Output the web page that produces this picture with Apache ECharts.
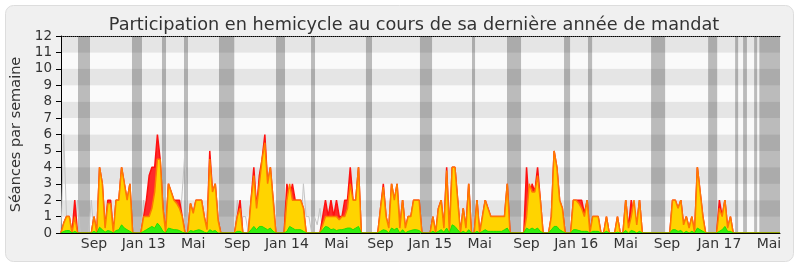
<!DOCTYPE html>
<html><head><meta charset="utf-8">
<script src="https://cdn.jsdelivr.net/npm/echarts@6/dist/echarts.min.js"></script>
<style>html,body{margin:0;padding:0;background:#fff}#c{width:800px;height:267px}</style>
</head><body><div id="c"></div>
<script>
// weekly values, week 0 = mid June 2012, week 261 = mid June 2017
const presence = [
0,0.6,1,1,0,2,0,0,0,0, 0,0,1,0,4,3,0.3,2,2,0, 2,2,4,3,2,3,0,0,0,0,
1,2,3.5,4,4,6,4.5,1.5,0,3, 2.5,2,2,2,1,0,0,1.8,1.2,2, 2,2,1,0.2,5,2.5,3,0.8,0,0,
0,0,0,0,1,2,0,0,0,2, 4,1.5,3.5,4.5,6,3,4,2,0,0, 0,0,3,2,3,2,2,2,1.5,0,
0,0,0,0,0,1,2,1,2,1, 2,1,1,2,2,4,2,2,4,0, 0,0,0,0,0,0,1.5,3,1,0.3,
3,2,3,0.3,2,0.3,1,1,2,2, 2,0,0,0,0,1,0,1.5,2,0.3, 4,0,4,4,2,0,1.5,0.3,3,0,
0,2,0,1,2,1.5,1,1,1,1, 1,1,3,0,0,0,0,0,0,4, 1.5,3,2.5,4,2,0,0,0,1,5,
4,2,1.5,0,0,0,2,2,2,2, 1.2,2,0,1,1,1,0,0,1,0, 0,0,1,0,0,2,0.3,2,1,0.5,
2,0,0,0,0,0,0,0,0,0, 0,0,2,2,1.5,2,0.5,1,0.3,1, 0,4,2.5,1,0,0,0,0,0,2,
1,2,0.3,1,0,0,0,0,0,0, 0,0,0,0,0,0,0,0,0,0, 0,0
];
const participation = [
0,0.6,1,1,0,1,0,0,0,0, 0,0,1,0,4,3,0.3,1.8,1.8,0, 2,2,4,3,2,3,0,0,0,0,
1,1,1,1.5,2.5,4.5,4.5,1.5,0,3, 2.5,2,1.8,1.5,1,0,0,1.8,1.2,2, 2,2,1,0.2,4.5,2.5,3,0.8,0,0,
0,0,0,0,1,1.5,0,0,0,2, 3.5,1.5,3,4.5,5.5,3,4,2,0,0, 0,0,2,3,2,2,2,2,1.5,0,
0,0,0,0,0,0.5,1,1,1,1, 1,0.8,1,1,1.5,3,2,2,4,0, 0,0,0,0,0,0,1.5,2.8,1,0.3,
3,2,3,0.3,2,0.3,1,1,2,2, 2,0,0,0,0,1,0,1.5,2,0.3, 3.8,0,4,4,2,0,1.5,0.3,3,0,
0,2,0,1,2,1.5,1,1,1,1, 1,1,3,0,0,0,0,0,0,1, 3,2.5,2.5,3.5,2,0,0,0,1,5,
4,2,1.5,0,0,0,2,2,1.8,1.5, 1,2,0,1,1,1,0,0,1,0, 0,0,1,0,0,2,0.3,1,2,0.5,
2,0,0,0,0,0,0,0,0,0, 0,0,2,2,1.5,2,0.5,1,0.3,1, 0,4,2.5,1,0,0,0,0,0,1.5,
1,2,0.3,1,0,0,0,0,0,0, 0,0,0,0,0,0,0,0,0,0, 0,0
];
const questions = [
0,0.1,0.15,0.15,0,0.1,0,0,0,0, 0,0,0.1,0,0.35,0.2,0.05,0.15,0.1,0, 0.15,0.2,0.5,0.3,0.2,0.1,0,0,0,0,
0.1,0.2,0.3,0.4,0.3,0.6,0.4,0.1,0,0.3, 0.25,0.2,0.2,0.15,0.05,0,0,0.15,0.1,0.15, 0.2,0.15,0.05,0,0.2,0.1,0.15,0,0,0,
0,0,0,0,0.1,0.1,0,0,0,0.2, 0.4,0.2,0.4,0.4,0.3,0.2,0.3,0.1,0,0, 0,0,0.1,0.4,0.3,0.2,0.2,0.2,0.1,0,
0,0,0,0,0,0.2,0.4,0.35,0.2,0.25, 0.15,0.2,0.2,0.25,0.3,0.3,0.2,0.3,0.4,0, 0,0,0,0,0,0,0.1,0.2,0.15,0,
0.3,0.2,0.3,0,0.2,0,0.1,0.15,0.2,0.2, 0.15,0,0,0,0,0.1,0,0.1,0.2,0.05, 0.3,0,0.5,0.4,0.2,0,0.1,0,0.2,0,
0,0.1,0,0.1,0.2,0.1,0.1,0.1,0.1,0.1, 0.1,0.2,0.3,0,0,0,0,0,0,0.3, 0.2,0.3,0.2,0.3,0.1,0,0,0,0.2,0.4,
0.4,0.2,0.1,0,0,0,0.2,0.2,0.15,0.1, 0.1,0.1,0,0.1,0.1,0.1,0,0,0.1,0, 0,0,0.05,0,0,0.15,0,0.15,0.1,0,
0.1,0,0,0,0,0,0,0,0,0, 0,0,0.2,0.2,0.1,0.15,0,0.1,0,0.1, 0,0.3,0.2,0.1,0,0,0,0,0,0.1,
0.2,0.4,0.1,0.1,0,0,0,0,0,0, 0,0,0,0,0,0,0,0,0,0, 0,0
];
const median = [
0,6,1,0,0,0,2,0,0,0, 0,2,0,0,0,0,0,0,0,0, 0,0,0,0,0,0,0,0,0,0,
2,0,0,0,0,0,0,0,0,0, 0,0,0,0,2.5,5,0,0,0,0, 0,0,0,0,0,0,0,0,0,0,
0,0,0,0,2,0,1,1,0,0, 0,0,0,0,0,0,0,0,0,0, 0,0,0,0,0,0,0,0,3,1,
1,0,1,0.5,1.5,0,0,0,0,0, 0,0,0,0,0,0,0,0,0,0, 0,0,0,0,0,0,0,0,0,0,
0,0,0,0,0,0,0,0,0,0, 0,0,0,0,0,0,0,0,0,0, 0,0,0,0,0,0,0,0,0,0,
0,0,0,0,0,0,0,0,0,0, 0,0,0,0,0,0,0,0,0,0, 0,0,0,0,0,0,0,0,0,0,
0,0,0,0,0,0,0,0,0,0, 0,0,0,0,0,0,0,0,0,0, 0,0,0,0,0,0,0,0,0,0,
0,0,0,0,0,0,0,0,0,0, 0,0,0,0,0,0,0,0,0,0, 0,0,0,0,0,0,0,0,0,0,
0,0,0,0,0,0,0,0,0,0, 0,0,0,0,0,0,0,0,0,0, 0,0
];
// holidays (in weeks from start)
const vacStart = [6.17,25.77,36.66,44.65,57.35,78.05,90.76,110.7,130.3,149.2,161.9,182.6,191.3,214.2,234.9,244.7,247.6,251.6,253.5];
const vacEnd   = [10.53,29.4,38.12,46.1,62.9,81.32,92.21,112.9,134.7,150.3,167,184.8,192.8,219.3,238.2,245.8,249,252.7,261];
// x tick labels
const tickWeeks = [12,30,48,64,82,100,116,134,152,169,187,205,220,239,257];
const tickLabels = ['Sep','Jan 13','Mai','Sep','Jan 14','Mai','Sep','Jan 15','Mai','Sep','Jan 16','Mai','Sep','Jan 17','Mai'];

const FONT = 'DejaVu Sans';
const toPts = a => a.map((v,i)=>[i,v]);
const chart = echarts.init(document.getElementById('c'), null, {renderer:'canvas'});
chart.setOption({
  animation:false,
  backgroundColor:'transparent',
  graphic:[{type:'rect', z:-100, shape:{x:5.5,y:5.5,width:788,height:256,r:8}, style:{fill:'#f0f0f0', stroke:'#dddddd', lineWidth:1}}],
  title:{text:'Participation en hemicycle au cours de sa dernière année de mandat', left:409, top:11, textAlign:'center',
    textStyle:{fontFamily:FONT, fontSize:17.7, fontWeight:'normal', color:'#333'}},
  grid:{left:61, right:20, top:36, bottom:34},
  xAxis:[{type:'value', min:0, max:261, z:10,
      axisLine:{show:true, lineStyle:{color:'#000', width:1}}, axisTick:{show:false}, splitLine:{show:false},
      axisLabel:{customValues:tickWeeks, margin:4, fontFamily:FONT, fontSize:14, color:'#333',
        formatter:v=>{const k=tickWeeks.indexOf(v); return k>=0?tickLabels[k]:'';}}},
    {type:'value', min:0, max:261, position:'top', z:10,
      axisLine:{show:true, lineStyle:{color:'#000', width:1, type:'dotted'}}, axisTick:{show:false}, axisLabel:{show:false}, splitLine:{show:false}}],
  yAxis:{type:'value', min:0, max:12, interval:1,
    name:'Séances par semaine', nameLocation:'middle', nameGap:32,
    nameTextStyle:{fontFamily:FONT, fontSize:14.5, color:'#333'},
    axisLine:{show:true, lineStyle:{color:'#000'}}, axisTick:{show:true, length:5, lineStyle:{color:'#000'}},
    axisLabel:{fontFamily:FONT, fontSize:13.5, color:'#333', margin:9},
    splitLine:{show:false}, splitArea:{show:true, areaStyle:{color:['#fafafa','#e5e5e5']}}},
  series:[
    {type:'custom', z:1, silent:true, data:vacStart.map((s,k)=>[s,vacEnd[k]]), encode:{x:[0,1]},
      renderItem:(params, api)=>{
        const p0 = api.coord([api.value(0),12]); const p1 = api.coord([api.value(1),0]);
        return {type:'rect', shape:{x:p0[0], y:p0[1], width:p1[0]-p0[0], height:p1[1]-p0[1]}, style:{fill:'rgba(0,0,0,0.25)'}};
      }},
    {type:'line', z:2, data:toPts(median), symbol:'none', lineStyle:{color:'#c4c4c4', width:1}},
    {type:'line', z:3, data:toPts(presence), symbol:'none', lineStyle:{color:'#ff1010', width:1.5}, areaStyle:{color:'#ff2a2a', opacity:1}},
    {type:'line', z:4, data:toPts(participation), symbol:'none', lineStyle:{color:'#ff7a00', width:1.5}, areaStyle:{color:'#ffd400', opacity:1}},
    {type:'line', z:5, data:toPts(questions), symbol:'none', lineStyle:{color:'#22e000', width:1}, areaStyle:{color:'#33ee11', opacity:1}}
  ]
});
</script></body></html>
